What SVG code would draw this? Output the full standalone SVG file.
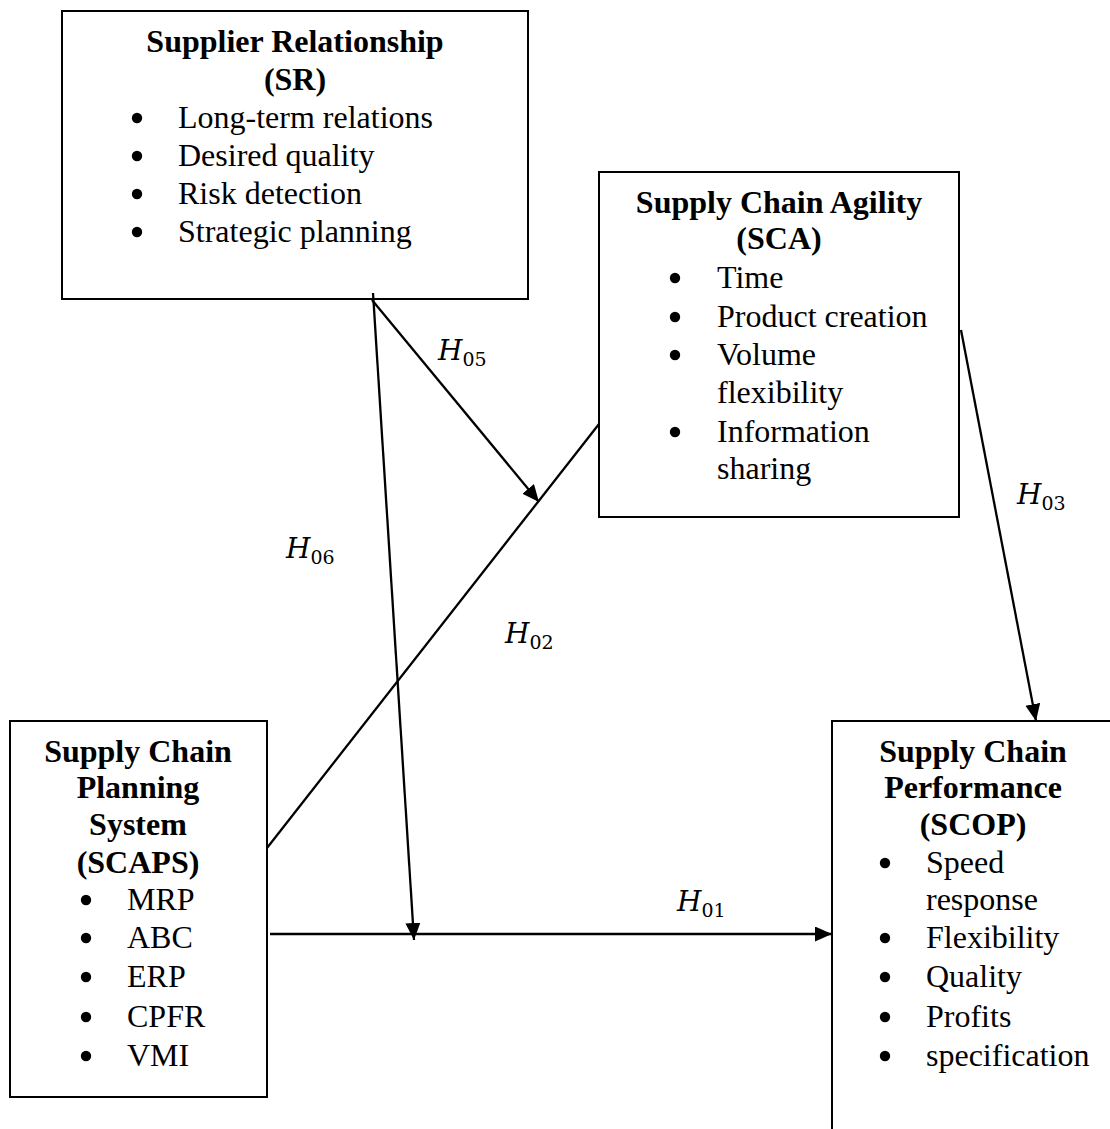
<svg xmlns="http://www.w3.org/2000/svg" width="1110" height="1129" viewBox="0 0 1110 1129">
<style>
.box{fill:#fff;stroke:#000;stroke-width:2}
.t{font-family:"Liberation Serif","Times New Roman",serif;font-size:32px;fill:#000}
.b{font-weight:bold;text-anchor:middle}
.h{font-family:"DejaVu Serif","Liberation Serif",serif;font-style:italic;font-size:28px;fill:#000}
.s{font-family:"DejaVu Serif","Liberation Serif",serif;font-size:19px;fill:#000}
.c{stroke:#000;stroke-width:2.3;fill:none}
</style>
<defs>
<marker id="ah" markerUnits="userSpaceOnUse" markerWidth="18" markerHeight="16" refX="17" refY="7.5" orient="auto">
<path d="M0,0 L17,7.5 L0,15 z" fill="#000"/>
</marker>
<circle id="dot" r="5.2" fill="#000"/>
</defs>
<rect width="1110" height="1129" fill="#fff"/>
<g id="SR">
<rect class="box" x="62" y="11" width="466" height="288"/>
<text class="t b" x="295" y="52">Supplier Relationship</text>
<text class="t b" x="295" y="90">(SR)</text>
<use href="#dot" x="137" y="118"/><text class="t" x="178" y="128">Long-term relations</text>
<use href="#dot" x="137" y="156"/><text class="t" x="178" y="166">Desired quality</text>
<use href="#dot" x="137" y="194"/><text class="t" x="178" y="204">Risk detection</text>
<use href="#dot" x="137" y="232"/><text class="t" x="178" y="242">Strategic planning</text>
</g>
<g id="SCA">
<rect class="box" x="599" y="172" width="360" height="345"/>
<text class="t b" x="779" y="213">Supply Chain Agility</text>
<text class="t b" x="779" y="249">(SCA)</text>
<use href="#dot" x="675" y="278"/><text class="t" x="717" y="288">Time</text>
<use href="#dot" x="675" y="317"/><text class="t" x="717" y="327">Product creation</text>
<use href="#dot" x="675" y="355"/><text class="t" x="717" y="365">Volume</text>
<text class="t" x="717" y="403">flexibility</text>
<use href="#dot" x="675" y="432"/><text class="t" x="717" y="442">Information</text>
<text class="t" x="717" y="479">sharing</text>
</g>
<g id="SCAPS">
<rect class="box" x="10" y="721" width="257" height="376"/>
<text class="t b" x="138" y="762">Supply Chain</text>
<text class="t b" x="138" y="798">Planning</text>
<text class="t b" x="138" y="835">System</text>
<text class="t b" x="138" y="873">(SCAPS)</text>
<use href="#dot" x="86" y="900"/><text class="t" x="127" y="910">MRP</text>
<use href="#dot" x="86" y="938"/><text class="t" x="127" y="948">ABC</text>
<use href="#dot" x="86" y="977"/><text class="t" x="127" y="987">ERP</text>
<use href="#dot" x="86" y="1017"/><text class="t" x="127" y="1027">CPFR</text>
<use href="#dot" x="86" y="1056"/><text class="t" x="127" y="1066">VMI</text>
</g>
<g id="SCOP">
<path d="M1110,721 H832 V1129" fill="none" stroke="#000" stroke-width="2"/>
<text class="t b" x="973" y="762">Supply Chain</text>
<text class="t b" x="973" y="798">Performance</text>
<text class="t b" x="973" y="835">(SCOP)</text>
<use href="#dot" x="885" y="863"/><text class="t" x="926" y="873">Speed</text>
<text class="t" x="926" y="910">response</text>
<use href="#dot" x="885" y="938"/><text class="t" x="926" y="948">Flexibility</text>
<use href="#dot" x="885" y="977"/><text class="t" x="926" y="987">Quality</text>
<use href="#dot" x="885" y="1017"/><text class="t" x="926" y="1027">Profits</text>
<use href="#dot" x="885" y="1056"/><text class="t" x="926" y="1066">specification</text>
</g>
<g id="connectors">
<line class="c" x1="270" y1="934" x2="832" y2="934" marker-end="url(#ah)"/>
<line class="c" x1="373" y1="293" x2="414" y2="940" marker-end="url(#ah)"/>
<line class="c" x1="372" y1="300" x2="539" y2="502" marker-end="url(#ah)"/>
<line class="c" x1="267" y1="848" x2="599" y2="424"/>
<line class="c" x1="961" y1="330" x2="1036" y2="721" marker-end="url(#ah)"/>
</g>
<g id="labels">
<text x="438" y="360"><tspan class="h">H</tspan><tspan class="s" dy="6">05</tspan></text>
<text x="286" y="558"><tspan class="h">H</tspan><tspan class="s" dy="6">06</tspan></text>
<text x="505" y="643"><tspan class="h">H</tspan><tspan class="s" dy="6">02</tspan></text>
<text x="1017" y="504"><tspan class="h">H</tspan><tspan class="s" dy="6">03</tspan></text>
<text x="677" y="911"><tspan class="h">H</tspan><tspan class="s" dy="6">01</tspan></text>
</g>
</svg>
